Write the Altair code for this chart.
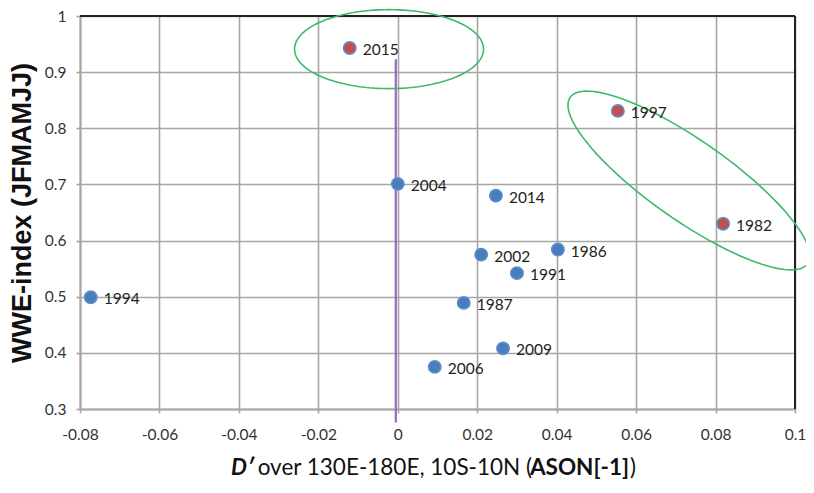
import math
import altair as alt
import pandas as pd

# ---- data ----
years = ["2015", "1997", "1982", "2004", "2014", "2002", "1986", "1991", "1987", "2009", "2006", "1994"]
dprime = [-0.0121, 0.0554, 0.0819, 0.0000, 0.0247, 0.0210, 0.0403, 0.0300, 0.0166, 0.0265, 0.0093, -0.0773]
wwe = [0.943, 0.831, 0.630, 0.701, 0.680, 0.575, 0.584, 0.542, 0.489, 0.408, 0.375, 0.499]
group = ["hi", "hi", "hi", "lo", "lo", "lo", "lo", "lo", "lo", "lo", "lo", "lo"]

x_ticks = [-0.08, -0.06, -0.04, -0.02, 0, 0.02, 0.04, 0.06, 0.08, 0.1]
y_ticks = [0.3, 0.4, 0.5, 0.6, 0.7, 0.8, 0.9, 1.0]

# purple reference line (x, y from, y to)
vline_x = [-0.0005]
vline_y1 = [0.923]
vline_y2 = [0.276]

# green ellipses: centre (data), semi-axes (screen px), tilt (deg, screen)
ell_cx = [-0.0022, 0.0733]
ell_cy = [0.941, 0.707]
ell_a = [94.5, 145]
ell_b = [39.5, 40]
ell_tilt = [0, 35]

W, H = 715, 393
XMIN, XMAX, YMIN, YMAX = -0.08, 0.1, 0.3, 1.0

df = pd.DataFrame({"year": years, "x": dprime, "y": wwe, "g": group})

# ellipse outlines traced in screen space, mapped back to data units
rows = []
for k in range(len(ell_cx)):
    cxp = (ell_cx[k] - XMIN) / (XMAX - XMIN) * W
    cyp = (YMAX - ell_cy[k]) / (YMAX - YMIN) * H
    a, b = ell_a[k], ell_b[k]
    t = math.radians(ell_tilt[k])
    for i in range(121):
        th = 2 * math.pi * i / 120
        px = cxp + a * math.cos(th) * math.cos(t) - b * math.sin(th) * math.sin(t)
        py = cyp + a * math.cos(th) * math.sin(t) + b * math.sin(th) * math.cos(t)
        rows.append({"e": k, "i": i,
                     "x": XMIN + px / W * (XMAX - XMIN),
                     "y": YMAX - py / H * (YMAX - YMIN)})
ell = pd.DataFrame(rows)

xs = alt.Scale(domain=[XMIN, XMAX], nice=False, zero=False)
ys = alt.Scale(domain=[YMIN, YMAX], nice=False, zero=False)
FONT = "Lato"
GRID = "#a6a6a6"

xax = alt.Axis(values=x_ticks, title=None, grid=True, gridColor=GRID, gridWidth=1.6,
               domainColor=GRID, domainWidth=2, tickColor=GRID, tickWidth=1.6, tickSize=4,
               labelFont=FONT, labelFontSize=15.5, labelColor="#333333", labelPadding=14,
               labelFlush=False, labelOverlap=False, labelExpr="'' + datum.value")
yax = alt.Axis(values=y_ticks, title="WWE-index (JFMAMJJ)", grid=True, gridColor=GRID, gridWidth=1.6,
               domainColor=GRID, domainWidth=2, tickColor=GRID, tickWidth=1.6, tickSize=4,
               labelFont=FONT, labelFontSize=15.5, labelColor="#333333", labelPadding=10,
               labelFlush=False, labelOverlap=False, labelExpr="'' + datum.value",
               titleFont="Liberation Sans", titleFontSize=27, titleFontWeight="bold", titleColor="#111111",
               titlePadding=8)

base = alt.Chart(df)

grid = base.mark_point(opacity=0).encode(
    x=alt.X("x:Q", scale=xs, axis=xax),
    y=alt.Y("y:Q", scale=ys, axis=yax),
)

# dark top and right frame edges
frame_top = alt.Chart(pd.DataFrame({"k": [0]})).mark_rule(color="#222222", strokeWidth=2).encode(
    x=alt.value(0), x2=alt.value(W), y=alt.value(0))
frame_right = alt.Chart(pd.DataFrame({"k": [0]})).mark_rule(color="#222222", strokeWidth=2).encode(
    x=alt.value(W), y=alt.value(0), y2=alt.value(H))

vdf = pd.DataFrame({"x": vline_x, "y": vline_y1, "y2": vline_y2})
vline = alt.Chart(vdf).mark_rule(color="#9966cc", strokeWidth=2.2, clip=False).encode(
    x=alt.X("x:Q", scale=xs), y=alt.Y("y:Q", scale=ys), y2="y2:Q")

ellipses = alt.Chart(ell).mark_line(color="#3cb96a", strokeWidth=1.6, clip=False).encode(
    x=alt.X("x:Q", scale=xs), y=alt.Y("y:Q", scale=ys), detail="e:N", order="i:Q")

pts = base.mark_point(filled=True, size=155, shape="circle", strokeWidth=1.5, opacity=1).encode(
    x=alt.X("x:Q", scale=xs), y=alt.Y("y:Q", scale=ys),
    fill=alt.Color("g:N", scale=alt.Scale(domain=["hi", "lo"], range=["#c0504d", "#4a7ebb"]), legend=None),
    stroke=alt.value("#5b8fd0"),
)

labels = base.mark_text(align="left", baseline="middle", dx=13, dy=2, font=FONT, fontSize=15.5,
                        color="#222222").encode(
    x=alt.X("x:Q", scale=xs), y=alt.Y("y:Q", scale=ys), text="year:N")

# x-axis title with mixed styles (pieces joined end to end)
TY = H + 66
TS = 22.5
def piece(txt, xpos, weight="normal", style="normal"):
    return alt.Chart(pd.DataFrame({"t": [txt]})).mark_text(
        align="right", baseline="alphabetic", font=FONT, fontSize=TS, fontWeight=weight,
        fontStyle=style, color="#111111").encode(x=alt.value(xpos), y=alt.value(TY), text="t:N")

tA = piece("D\u2032", 174, "bold", "italic")
tB = piece("over 130E-180E, 10S-10N (", 452)
tC = piece("ASON[-1]", 549, "bold")
tD = piece(")", 556)

chart = alt.layer(grid, frame_top, frame_right, vline, ellipses, pts, labels, tA, tB, tC, tD).properties(
    width=W, height=H,
    autosize=alt.AutoSizeParams(type="none"),
    padding={"left": 72, "top": 8, "right": 11, "bottom": 70},
).configure_view(stroke=None).configure(background="white")

chart.save("out.html", embed_options={"renderer": "svg", "actions": False})
